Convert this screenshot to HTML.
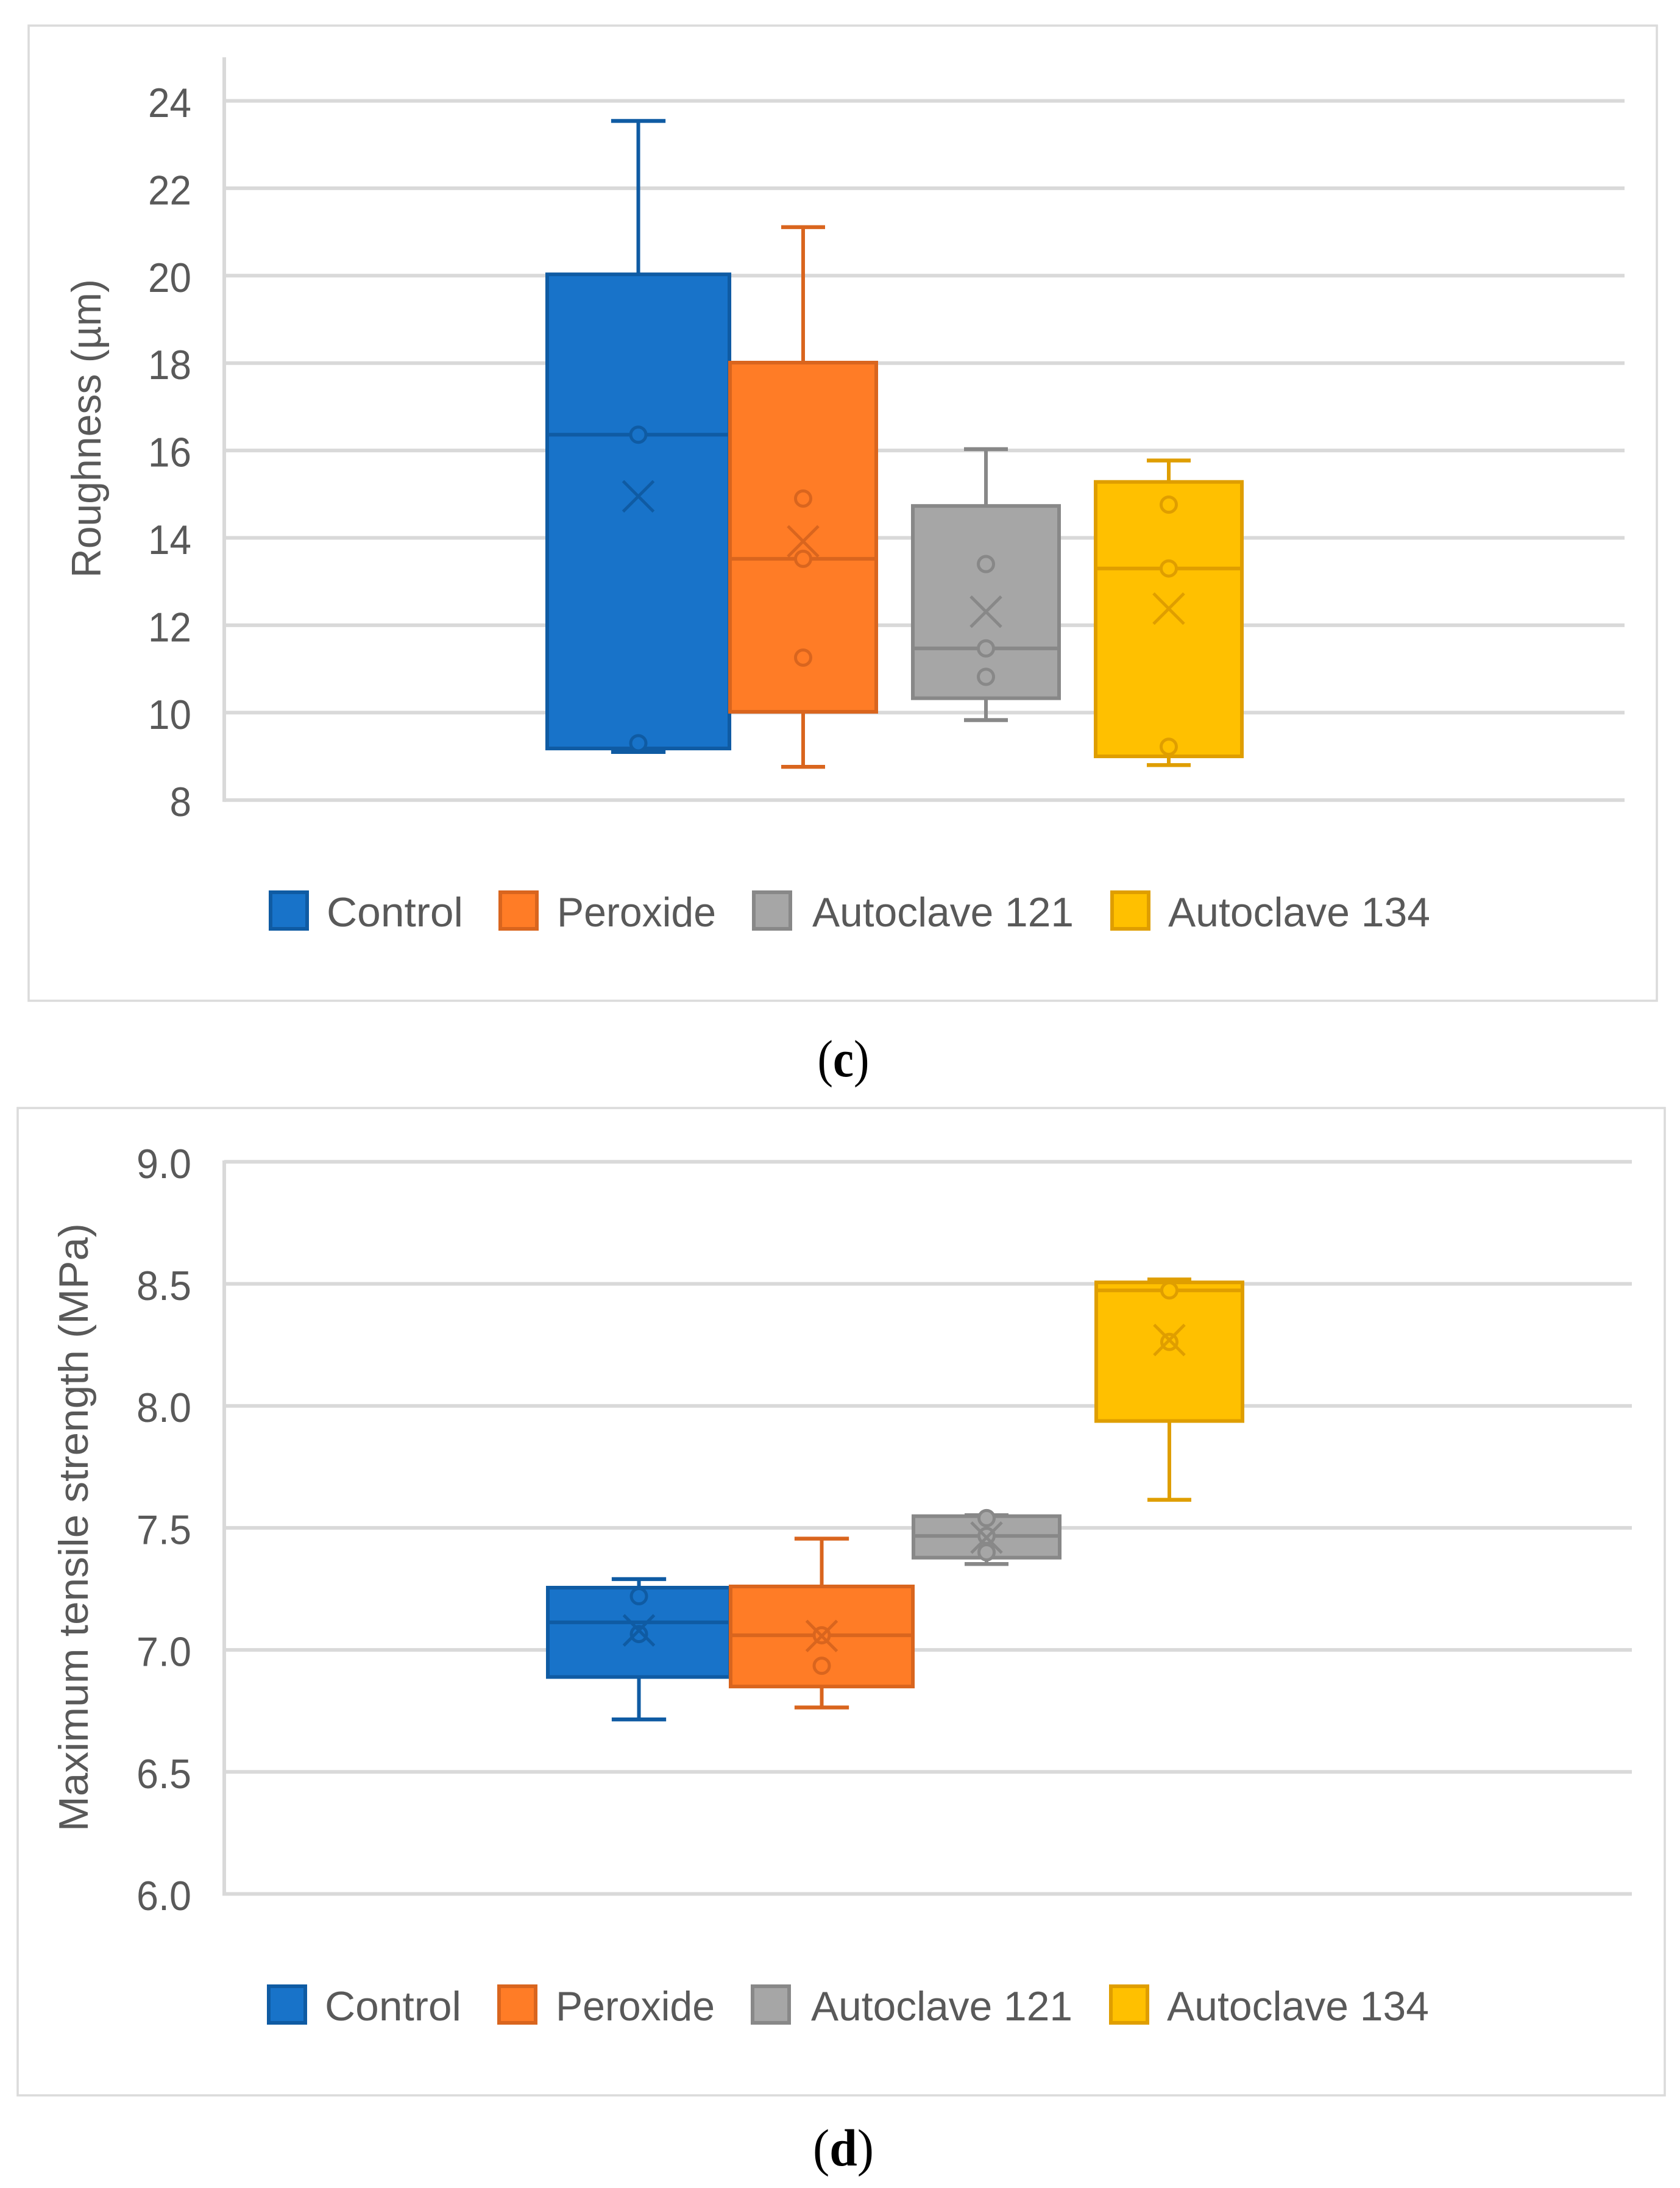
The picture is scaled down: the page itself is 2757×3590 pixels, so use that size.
<!DOCTYPE html>
<html lang="en">
<head>
<meta charset="utf-8">
<title>Roughness and maximum tensile strength box plots</title>
<style>
html,body{margin:0;padding:0;background:#fff;}
svg{display:block;}
text{font-family:"Liberation Sans",sans-serif;fill:#595959;}
.caption{font-family:"Liberation Serif",serif;fill:#000;font-size:86px;}
</style>
</head>
<body>
<svg id="figure" xmlns="http://www.w3.org/2000/svg" width="2757" height="3590" viewBox="0 0 2757 3590">
  <rect x="0" y="0" width="2757" height="3590" fill="#ffffff"/>
  <text class="caption" x="1384" y="1766" text-anchor="middle" textLength="85" lengthAdjust="spacingAndGlyphs">(<tspan font-weight="bold">c</tspan>)</text>
  <text class="caption" x="1384" y="3553" text-anchor="middle" textLength="100" lengthAdjust="spacingAndGlyphs">(<tspan font-weight="bold">d</tspan>)</text>
</svg>
<script>
// Shared categories
const categories = ['Control', 'Peroxide', 'Autoclave 121', 'Autoclave 134'];

// Panel (c): roughness, one value per category
const roughnessTicks = [8, 10, 12, 14, 16, 18, 20, 22, 24];
const roughnessLow = [9.1, 8.76, 9.83, 8.8];
const roughnessQ1 = [9.18, 10.02, 10.33, 9.0];
const roughnessMedian = [16.36, 13.52, 11.47, 13.3];
const roughnessQ3 = [20.03, 18.01, 14.73, 15.28];
const roughnessHigh = [23.54, 21.11, 16.03, 15.77];
const roughnessMean = [14.95, 13.92, 12.31, 12.38];
const roughnessPoints = [
  [9.3, 16.36],
  [11.26, 13.52, 14.9],
  [10.82, 11.47, 13.4],
  [9.22, 13.3, 14.76]
];

// Panel (d): maximum tensile strength, one value per category
const strengthTicks = [6.0, 6.5, 7.0, 7.5, 8.0, 8.5, 9.0];
const strengthLow = [6.715, 6.764, 7.352, 7.615];
const strengthQ1 = [6.889, 6.85, 7.378, 7.938];
const strengthMedian = [7.113, 7.06, 7.467, 8.473];
const strengthQ3 = [7.255, 7.26, 7.548, 8.506];
const strengthHigh = [7.29, 7.456, 7.552, 8.518];
const strengthMean = [7.08, 7.057, 7.46, 8.27];
const strengthPoints = [
  [7.065, 7.22],
  [6.935, 7.06],
  [7.40, 7.467, 7.54],
  [8.262, 8.473]
];

const fills = ['#1873C9', '#FF7C26', '#A6A6A6', '#FFC000'];
const strokes = ['#0F5BA3', '#D9651E', '#888888', '#DF9E00'];

const svg = document.getElementById('figure');
const NS = 'http://www.w3.org/2000/svg';

function add(parent, tag, attrs) {
  const el = document.createElementNS(NS, tag);
  for (const k in attrs) el.setAttribute(k, attrs[k]);
  parent.appendChild(el);
  return el;
}

function drawPanel(p) {
  const panel = add(svg, 'g', {});
  
  

  const frame = add(panel, 'rect', {x: p.frame[0], y: p.frame[1], width: p.frame[2] - p.frame[0], height: p.frame[3] - p.frame[1], fill: 'none', stroke: '#DBDBDB', 'stroke-width': 3.6});
  
  

  const minV = p.ticks[0];
  const yScale = v => p.yBottom - (v - minV) * p.pxPerUnit;
  const bandLeft = i => p.x0 + p.step * i;
  const bandWidth = i => p.band * p.widthScale[i];
  const bandCenter = i => bandLeft(i) + bandWidth(i) / 2;
  const capWidth = i => p.cap * p.widthScale[i];

  // gridlines and tick labels
  p.ticks.forEach(t => {
    const y = yScale(t);
    const text = p.tickDigits ? t.toFixed(p.tickDigits) : String(t);
    const grid = add(panel, 'line', {x1: p.axisX, x2: p.gridRight, y1: y, y2: y, stroke: '#D9D9D9', 'stroke-width': 6});
    
    
    const label = add(panel, 'text', {x: 314, y: y + 26.5, 'text-anchor': 'end', 'font-size': 68, textLength: p.tickCharWidth * text.length, lengthAdjust: 'spacingAndGlyphs'});
    
    
    label.textContent = text;
  });

  const axis = add(panel, 'line', {x1: p.axisX, x2: p.axisX, y1: p.axisTop, y2: yScale(minV) + 3, stroke: '#D9D9D9', 'stroke-width': 6});
  
  

  const title = add(panel, 'text', {transform: 'translate(' + p.titleX + ' ' + p.titleStart + ') rotate(-90)', 'font-size': 68, textLength: p.titleLength, lengthAdjust: 'spacingAndGlyphs'});
  
  
  title.textContent = p.title;

  // series
  categories.forEach((cat, i) => {
    const g = add(panel, 'g', {fill: 'none', stroke: strokes[i], 'stroke-width': 6});
    
    
    const cx = bandCenter(i);

    const whiskerHigh = add(g, 'line', {x1: cx, x2: cx, y1: yScale(p.high[i]), y2: yScale(p.q3[i])});
    
    
    const whiskerLow = add(g, 'line', {x1: cx, x2: cx, y1: yScale(p.low[i]), y2: yScale(p.q1[i])});
    
    
    const capHigh = add(g, 'line', {x1: cx - capWidth(i) / 2, x2: cx + capWidth(i) / 2, y1: yScale(p.high[i]), y2: yScale(p.high[i]), 'stroke-width': 6.4});
    
    
    const capLow = add(g, 'line', {x1: cx - capWidth(i) / 2, x2: cx + capWidth(i) / 2, y1: yScale(p.low[i]), y2: yScale(p.low[i]), 'stroke-width': 6.4});
    
    

    const box = add(g, 'rect', {x: bandLeft(i) + 3, y: yScale(p.q3[i]), width: bandWidth(i) - 6, height: yScale(p.q1[i]) - yScale(p.q3[i]), fill: fills[i], 'stroke-width': 6});
    
    

    const median = add(g, 'line', {x1: bandLeft(i) + 3, x2: bandLeft(i) + bandWidth(i) - 3, y1: yScale(p.median[i]), y2: yScale(p.median[i])});
    
    

    p.points[i].forEach(v => {
      const pt = add(g, 'circle', {cx: cx, cy: yScale(v), r: 12.5, fill: fills[i], 'stroke-width': 5});
      
      
    });

    const my = yScale(p.mean[i]);
    const mean = add(g, 'path', {d: 'M' + (cx - 25) + ' ' + (my - 25) + 'L' + (cx + 25) + ' ' + (my + 25) + 'M' + (cx + 25) + ' ' + (my - 25) + 'L' + (cx - 25) + ' ' + (my + 25), 'stroke-width': 5});
    
    
  });

  // legend
  categories.forEach((cat, i) => {
    const entry = add(panel, 'g', {});
    
    
    const sw = add(entry, 'rect', {x: p.legendX[i] + 3, y: p.legendTop + 3, width: 60, height: 60, fill: fills[i], stroke: strokes[i], 'stroke-width': 6});
    
    
    const lab = add(entry, 'text', {x: p.legendX[i] + p.legendGap[i], y: p.legendTop + 59, 'font-size': 68, textLength: p.legendWidth[i], lengthAdjust: 'spacingAndGlyphs'});
    
    
    lab.textContent = cat;
  });
}

drawPanel({
  name: 'roughness-chart', title: 'Roughness (\u00B5m)',
  ticks: roughnessTicks, tickDigits: 0, tickCharWidth: 35.5,
  low: roughnessLow, q1: roughnessQ1, median: roughnessMedian, q3: roughnessQ3, high: roughnessHigh, mean: roughnessMean, points: roughnessPoints,
  frame: [47, 42, 2719, 1642],
  axisX: 368, axisTop: 94, gridRight: 2666, yBottom: 1312.7, pxPerUnit: 71.7,
  x0: 895, step: 300, band: 246, widthScale: [1.24, 1, 1, 1], cap: 72,
  titleX: 165, titleStart: 948, titleLength: 490,
  legendX: [441, 818, 1234, 1822], legendTop: 1461,
  legendGap: [95, 96, 99, 95], legendWidth: [224, 261, 429, 430]
});

drawPanel({
  name: 'tensile-strength-chart', title: 'Maximum tensile strength (MPa)',
  ticks: strengthTicks, tickDigits: 1, tickCharWidth: 30,
  low: strengthLow, q1: strengthQ1, median: strengthMedian, q3: strengthQ3, high: strengthHigh, mean: strengthMean, points: strengthPoints,
  frame: [29, 1818, 2732, 3438],
  axisX: 368, axisTop: 1904, gridRight: 2678, yBottom: 3107.5, pxPerUnit: 400.4,
  x0: 896, step: 300, band: 246, widthScale: [1.24, 1.24, 1, 1], cap: 72,
  titleX: 144, titleStart: 3005, titleLength: 998,
  legendX: [438, 816, 1232, 1820], legendTop: 3256,
  legendGap: [95, 96, 99, 95], legendWidth: [224, 261, 429, 430]
});
</script>
</body>
</html>
